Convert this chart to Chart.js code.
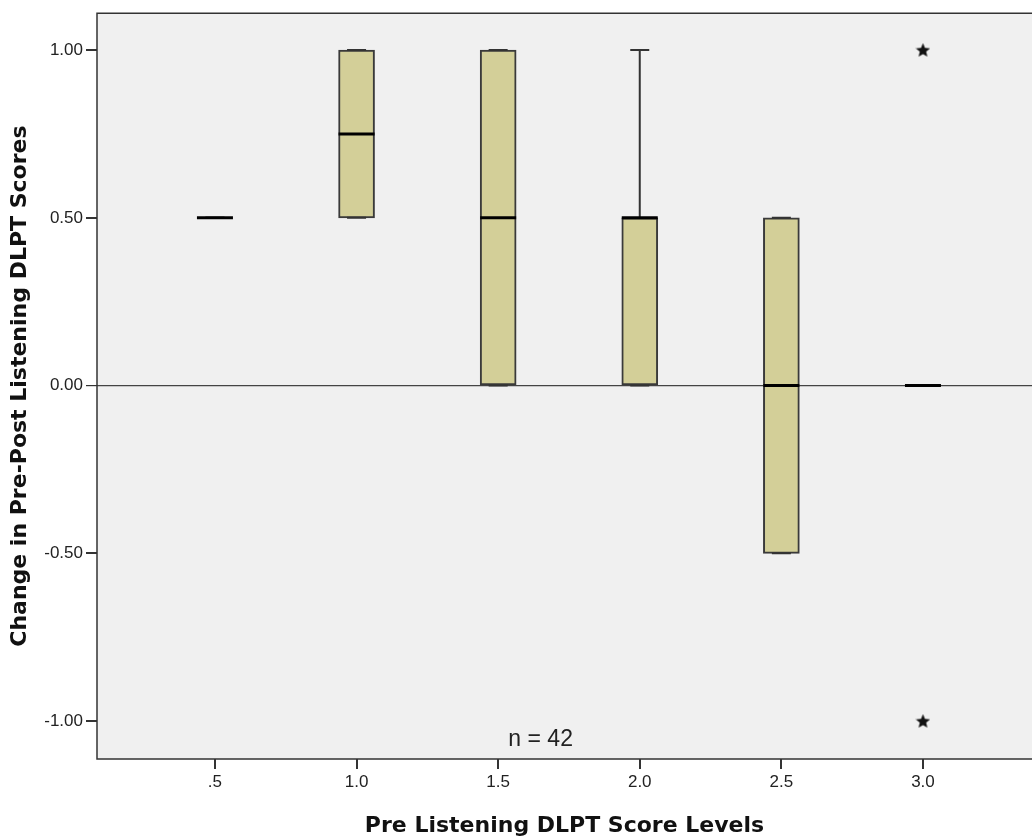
<!DOCTYPE html>
<html>
<head>
<meta charset="utf-8">
<script src="https://cdn.jsdelivr.net/npm/chart.js@4"></script>
<style>
  html, body { margin: 0; padding: 0; background: #fff; overflow: hidden; }
</style>
</head>
<body>
<canvas id="chart" width="1032" height="837"></canvas>
<script>
const categories = ['.5', '1.0', '1.5', '2.0', '2.5', '3.0'];
const q1 = [0.5, 0.5, 0, 0, -0.5, 0];
const q3 = [0.5, 1, 1, 0.5, 0.5, 0];
const medians = [0.5, 0.75, 0.5, 0.5, 0, 0];
const whiskerLow = [0.5, 0.5, 0, 0, -0.5, 0];
const whiskerHigh = [0.5, 1, 1, 1, 0.5, 0];
const outliers = [[], [], [], [], [], [1, -1]];
const yTicks = [-1, -0.5, 0, 0.5, 1];
const sampleLabel = 'n = 42';

// filled five point star for the extreme values
function starImage(size) {
  const c = document.createElement('canvas');
  c.width = size; c.height = size;
  const g = c.getContext('2d');
  const cx = size / 2, cy = size / 2 + 0.5, R = size / 2, r = R * 0.45;
  g.beginPath();
  for (let i = 0; i < 10; i++) {
    const a = -Math.PI / 2 + i * Math.PI / 5;
    const rad = i % 2 ? r : R;
    g.lineTo(cx + rad * Math.cos(a), cy + rad * Math.sin(a));
  }
  g.closePath();
  g.fillStyle = '#111';
  g.fill();
  return c;
}

const boxData = categories.map((c, i) => ({ x: i, y: [q1[i], q3[i]] }));
const medianData = categories.map((c, i) => ({ x: i, y: medians[i] }));
const whiskerData = [];
const capData = [];
categories.forEach((c, i) => {
  whiskerData.push({ x: i, y: q3[i] }, { x: i, y: whiskerHigh[i] }, { x: i, y: null });
  whiskerData.push({ x: i, y: q1[i] }, { x: i, y: whiskerLow[i] }, { x: i, y: null });
  capData.push({ x: i, y: whiskerHigh[i] }, { x: i, y: whiskerLow[i] });
});
const outlierData = [];
outliers.forEach((vals, i) => vals.forEach(v => outlierData.push({ x: i, y: v })));

const frame = {
  id: 'frame',
  beforeDraw(chart) {
    const { ctx, chartArea: a } = chart;
    ctx.save();
    ctx.fillStyle = '#f0f0f0';
    ctx.fillRect(a.left, a.top, a.right - a.left, a.bottom - a.top);
    ctx.restore();
  },
  afterDraw(chart) {
    const { ctx, chartArea: a, scales } = chart;
    ctx.save();
    ctx.strokeStyle = '#333';
    ctx.lineWidth = 1.5;
    ctx.beginPath();
    ctx.moveTo(a.right, a.top);
    ctx.lineTo(a.left, a.top);
    ctx.lineTo(a.left, a.bottom);
    ctx.lineTo(a.right, a.bottom);
    ctx.stroke();
    ctx.fillStyle = '#222';
    ctx.font = '23px "Liberation Sans"';
    ctx.textAlign = 'center';
    ctx.textBaseline = 'middle';
    ctx.fillText(sampleLabel, scales.x.getPixelForValue(2.3), scales.y.getPixelForValue(-1.055));
    ctx.restore();
  }
};

const tickFont = { family: 'Liberation Sans', size: 17 };
const titleFont = { family: 'DejaVu Sans', size: 22, weight: 'bold' };

new Chart(document.getElementById('chart'), {
  type: 'bar',
  data: {
    datasets: [
      {
        type: 'line',
        data: whiskerData,
        borderColor: '#333',
        borderWidth: 2,
        pointRadius: 0,
        spanGaps: false,
        order: 3
      },
      {
        type: 'bar',
        data: boxData,
        backgroundColor: '#d3cf98',
        borderColor: '#3a3a3a',
        borderWidth: 2,
        borderSkipped: false,
        barThickness: 36,
        order: 2
      },
      {
        type: 'scatter',
        data: capData,
        pointStyle: 'line',
        pointRadius: 9.5,
        borderColor: '#333',
        borderWidth: 2,
        order: 1
      },
      {
        type: 'scatter',
        data: medianData,
        pointStyle: 'line',
        pointRadius: 18,
        borderColor: '#000',
        borderWidth: 3,
        order: 0
      },
      {
        type: 'scatter',
        data: outlierData,
        pointStyle: starImage(15),
        order: 0
      }
    ]
  },
  options: {
    responsive: false,
    animation: false,
    events: [],
    layout: { autoPadding: false, padding: { top: 4, right: 0, left: 0, bottom: 0 } },
    plugins: { legend: { display: false }, tooltip: { enabled: false } },
    scales: {
      x: {
        type: 'linear',
        offset: false,
        min: -0.833,
        max: 5.77,
        afterBuildTicks: s => { s.ticks = categories.map((c, i) => ({ value: i })); },
        afterFit: s => { s.height = 78; },
        ticks: {
          callback: v => categories[v],
          font: tickFont,
          color: '#222',
          padding: 3,
          maxRotation: 0
        },
        grid: { offset: false, drawOnChartArea: false, tickColor: '#333', tickLength: 10, lineWidth: 2 },
        border: { display: false },
        title: {
          display: true,
          text: 'Pre Listening DLPT Score Levels',
          font: titleFont,
          color: '#111',
          padding: { top: 0, bottom: -2 }
        }
      },
      y: {
        min: -1.113,
        max: 1.11,
        afterBuildTicks: s => { s.ticks = yTicks.map(v => ({ value: v })); },
        afterFit: s => { s.width = 97; },
        ticks: {
          callback: v => v.toFixed(2),
          font: tickFont,
          color: '#222',
          padding: 3
        },
        grid: {
          color: c => (c.tick && c.tick.value === 0 ? '#444' : 'rgba(0,0,0,0)'),
          tickColor: '#333',
          tickLength: 11,
          lineWidth: c => (c.tick && c.tick.value === 0 ? 1.2 : 2)
        },
        border: { display: false },
        title: {
          display: true,
          text: 'Change in Pre-Post Listening DLPT Scores',
          font: titleFont,
          color: '#111',
          padding: { top: 7, bottom: 0 }
        }
      }
    }
  },
  plugins: [frame]
});
</script>
</body>
</html>
